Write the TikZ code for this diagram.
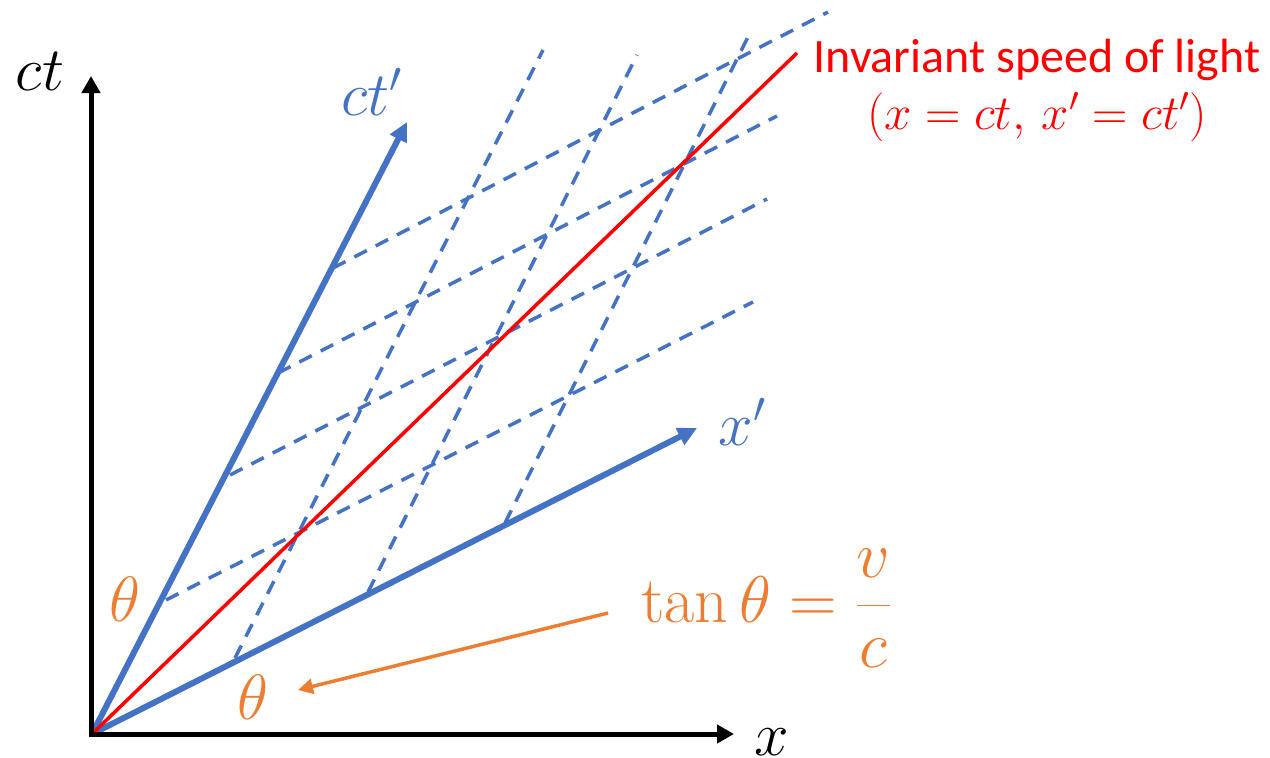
\RequirePackage{fix-cm}
\documentclass[tikz,border=0pt]{standalone}
\usepackage{fontspec}
\newfontfamily\carlito{Carlito}
\usetikzlibrary{arrows.meta}
\definecolor{obl}{HTML}{4472C4}
\definecolor{oor}{HTML}{ED7D31}
\definecolor{ored}{HTML}{FF0000}
\begin{document}
\begin{tikzpicture}[x=1pt,y=-1pt,
  axis/.style={line width=5pt,-{Triangle[length=17pt,width=18pt]}},
  paxis/.style={obl,line width=6pt,-{Triangle[length=19pt,width=18pt]}},
  grid/.style={obl,line width=3.5pt,dash pattern=on 14pt off 10pt},
  light/.style={ored,line width=3.5pt},
  note/.style={oor,line width=3.5pt,-{Triangle[length=15pt,width=15pt]}},
  mlab/.style={inner sep=0pt,anchor=base,font=\fontsize{62}{70}\selectfont}]
\useasboundingbox (0,0) rectangle (1270,758);
% coordinates
\coordinate (O) at (92,734);
\coordinate (Ov) at (91,737);
\coordinate (Xend) at (734,734);
\coordinate (Tend) at (91,76);
\coordinate (Tp) at (407,122);
\coordinate (Xp) at (697,428);
\coordinate (L) at (797,53);
\coordinate (a1) at (166,600); \coordinate (a1e) at (753,302);
\coordinate (a2) at (230,475); \coordinate (a2e) at (767,199);
\coordinate (a3) at (278,373); \coordinate (a3e) at (777,116);
\coordinate (a4) at (333,268); \coordinate (a4e) at (828,12);
\coordinate (b1) at (235,658); \coordinate (b1e) at (543,50);
\coordinate (b2) at (368,592); \coordinate (b2e) at (637,55);
\coordinate (b3) at (505,523); \coordinate (b3e) at (750,33);
% grid
\foreach \n in {a1,a2,a3,a4,b1,b2,b3} \draw[grid] (\n) -- (\n e);
% primed axes
\draw[paxis] (O) -- (Tp);
\draw[paxis] (O) -- (Xp);
% light line
\draw[light] (O) -- (L);
% axes
\draw[axis] (Ov) -- (Tend);
\draw[axis] (O) -- (Xend);
% labels
\node[mlab] (lct) at (40,90) {$ct$};
\node[mlab,obl] (lctp) at (372,115) {$ct'$};
\node[mlab,obl] (lxp) at (742,445) {$x'$};
\node[mlab] (lx) at (772,755) {$x$};
\node[mlab,oor,font=\fontsize{64}{70}\selectfont] (th1) at (125,621) {$\theta$};
\node[mlab,oor,font=\fontsize{64}{70}\selectfont] (th2) at (253,719) {$\theta$};
\node[inner sep=0pt,anchor=base west,oor,font=\fontsize{66}{70}\selectfont] (tan) at (641,622) {$\displaystyle\tan\theta=\frac{v\rule[-12pt]{0pt}{1pt}}{c}$};
\node[inner sep=0pt,anchor=base,ored,font=\carlito\fontsize{48}{50}\selectfont] (inv) at (1037,72) {Invariant speed of light};
\node[inner sep=0pt,anchor=base,ored,font=\fontsize{49}{50}\selectfont] (eq) at (1037,129) {$(x=ct,\,x'=ct')$};
% orange arrow
\coordinate (na) at (608,613);
\coordinate (nb) at (298,690);
\draw[note] (na) -- (nb);
\end{tikzpicture}
\end{document}
